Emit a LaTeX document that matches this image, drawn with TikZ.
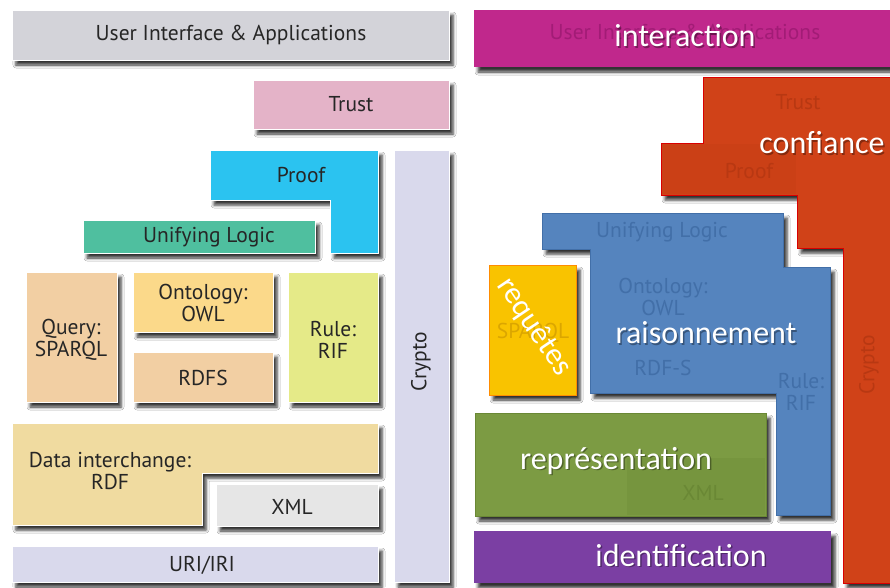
\documentclass[tikz,border=0pt]{standalone}
\usepackage{fontspec}
\setmainfont{PT Sans}
\newfontfamily\bigfont{Carlito}
\usetikzlibrary{shadows.blur}
\definecolor{cUI}{HTML}{D3D3D9}
\definecolor{cTrust}{HTML}{E4B3C8}
\definecolor{cProof}{HTML}{2BC3F0}
\definecolor{cCrypto}{HTML}{D9D9EC}
\definecolor{cUL}{HTML}{4FBF9F}
\definecolor{cQuery}{HTML}{F2CFA3}
\definecolor{cOWL}{HTML}{FBD98A}
\definecolor{cRule}{HTML}{E5EA88}
\definecolor{cRDF}{HTML}{F0DBA0}
\definecolor{cXML}{HTML}{E6E6E6}
\definecolor{cMag}{HTML}{C0288C}
\definecolor{cMagD}{HTML}{A21C76}
\definecolor{cRed}{HTML}{D04218}
\definecolor{cRedD}{HTML}{B83812}
\definecolor{cBlue}{HTML}{5584BE}
\definecolor{cBlueD}{HTML}{426FA8}
\definecolor{cYel}{HTML}{F9C300}
\definecolor{cYelD}{HTML}{DBA600}
\definecolor{cGreen}{HTML}{7C9B43}
\definecolor{cGreenD}{HTML}{6A8835}
\definecolor{cPurp}{HTML}{7B3FA3}
\tikzset{
  x=1pt, y=-1pt,
  sh/.style={blur shadow={shadow xshift=4pt, shadow yshift=-5pt, shadow blur radius=3pt, shadow opacity=80}},
  lbox/.style={sh, draw=white, line width=1pt},
  rbox/.style={sh, line width=1pt},
  ltxt/.style={font=\fontsize{21.5}{22.5}\selectfont, text=black!85, align=center},
  ghost/.style={font=\fontsize{21.5}{22.5}\selectfont, align=center},
  wtxt/.style={font=\bigfont\fontsize{32}{34}\selectfont, text=white},
  wsh/.style={font=\bigfont\fontsize{32}{34}\selectfont, text=black, opacity=0.35},
}
\begin{document}
\begin{tikzpicture}
\useasboundingbox (0,0) rectangle (890,587);
\fill[white] (0,0) rectangle (890,587);
% ---------- left side ----------
\path[lbox, fill=cCrypto] (394,150) rectangle (449,582);
\path[lbox, fill=cUI] (12,10) rectangle (449,60);
\path[lbox, fill=cTrust] (253,80) rectangle (449,129);
\path[lbox, fill=cProof] (210,150) -- (378,150) -- (378,253) -- (330,253) -- (330,200) -- (210,200) -- cycle;
\path[lbox, fill=cUL] (83,220) rectangle (315,253);
\path[lbox, fill=cQuery] (26,272) rectangle (117,402);
\path[lbox, fill=cOWL] (133,272) rectangle (273,332);
\path[lbox, fill=cQuery] (133,352) rectangle (273,402);
\path[lbox, fill=cRule] (288,272) rectangle (378,402);
\path[lbox, fill=cRDF] (12,423) -- (378,423) -- (378,473) -- (202,473) -- (202,525) -- (12,525) -- cycle;
\path[lbox, fill=cXML] (216,484) rectangle (378,526);
\path[lbox, fill=cCrypto] (12,546) rectangle (378,582);
\node[ltxt] (tUI) at (231,35) {User Interface \& Applications};
\node[ltxt] (tTrust) at (351,104) {Trust};
\node[ltxt] (tProof) at (301,175) {Proof};
\node[ltxt] (tUL) at (209,237) {Unifying Logic};
\node[ltxt] (tQuery) at (71,340) {Query:\\SPARQL};
\node[ltxt] (tOWL) at (203,303) {Ontology:\\OWL};
\node[ltxt] (tRDFS) at (203,378) {RDFS};
\node[ltxt] (tRule) at (333,340) {Rule:\\RIF};
\node[ltxt] (tRDF) at (110,471) {Data interchange:\\RDF};
\node[ltxt] (tXML) at (292,507) {XML};
\node[ltxt] (tURI) at (202,565) {URI/IRI};
\node[ltxt, rotate=90] (tCrypto) at (421,362) {Crypto};
% ---------- right side ----------
\path[rbox, fill=cMag] (474,10) rectangle (890,67);
\node[ghost, text=cMagD] (gUI) at (685,34) {User Interface \& Applications};
\node[wsh] (sInter) at (686.5,37.5) {interaction};
\node[wtxt] (wInter) at (685,36) {interaction};
\path[rbox, fill=cRed, draw=red!85!black] (703,77) -- (892,77) -- (892,583) -- (843,583) -- (843,248) -- (797,248) -- (797,195) -- (661,195) -- (661,143) -- (703,143) -- cycle;
\fill[cRedD, opacity=0.2] (662,144) rectangle (796,194);
\node[ghost, text=cRedD] (gTrust) at (798,102) {Trust};
\node[ghost, text=cRedD] (gProof) at (749,171) {Proof};
\node[ghost, text=cRedD, rotate=90] (gCrypto) at (869,365) {Crypto};
\node[wsh] (sConf) at (823.5,144.5) {confiance};
\node[wtxt] (wConf) at (822,143) {confiance};
\path[rbox, fill=cBlue, draw=cBlueD] (542,213) -- (783,213) -- (783,267) -- (830,267) -- (830,515) -- (776,515) -- (776,393) -- (590,393) -- (590,249) -- (542,249) -- cycle;
\node[ghost, text=cBlueD] (gUL) at (662,232) {Unifying Logic};
\node[ghost, text=cBlueD] (gOWL) at (663,297) {Ontology:\\OWL};
\node[ghost, text=cBlueD] (gRDFS) at (663,368) {RDF-S};
\node[ghost, text=cBlueD] (gRule) at (801,392) {Rule:\\RIF};
\node[wsh] (sRais) at (707.5,334.5) {raisonnement};
\node[wtxt] (wRais) at (706,333) {raisonnement};
\path[rbox, fill=cYel, draw=orange!90!yellow] (489,265) rectangle (576,395);
\node[ghost, text=cYelD] (gSPARQL) at (533,333) {SPARQL};
\node[wtxt, rotate=-56, font=\bigfont\fontsize{31}{33}\selectfont] (wReq) at (534,327) {requêtes};
\path[rbox, fill=cGreen, draw=cGreenD] (475,413) rectangle (766,516);
\fill[cGreenD, opacity=0.3] (627,458) rectangle (765,515);
\node[ghost, text=cGreenD] (gXML) at (703,493) {XML};
\node[wsh] (sRep) at (617.5,462.5) {représentation};
\node[wtxt] (wRep) at (616,461) {représentation};
\path[rbox, fill=cPurp] (474,531) rectangle (831,583);
\node[wsh] (sIdent) at (682.5,556.5) {identification};
\node[wtxt] (wIdent) at (681,555) {identification};
\end{tikzpicture}
\end{document}
